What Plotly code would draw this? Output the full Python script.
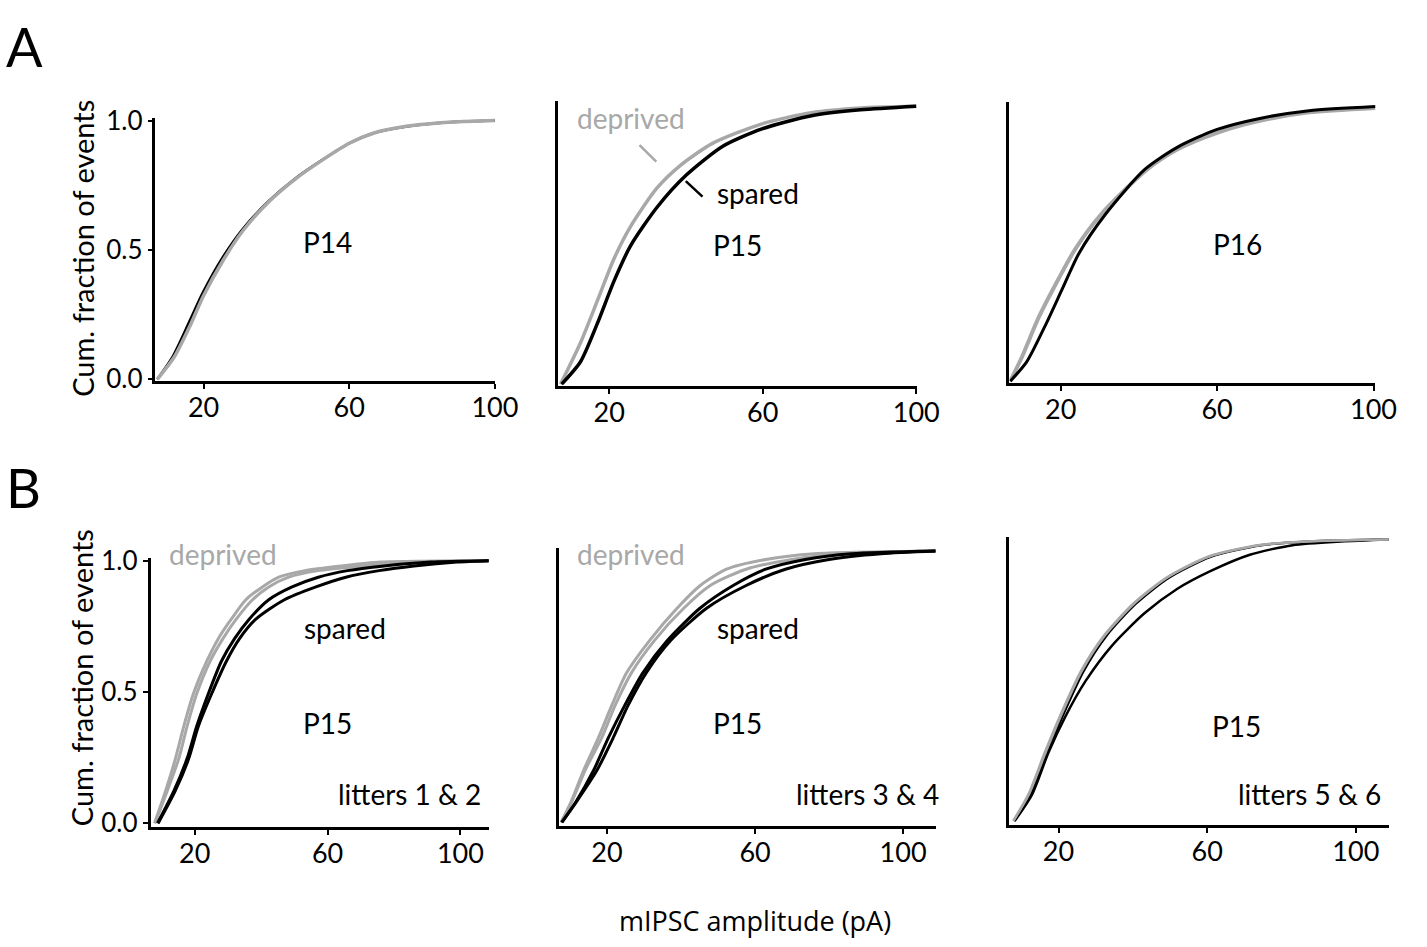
import plotly.graph_objects as go

W, H = 1427, 947
GRAY = "#a8a8a8"
BLACK = "#000000"
FONT = "Lato"

# ---------------- data ----------------
# Panel A1 (P14)
a1_spared_x = [7.3, 11.6, 16.0, 19.8, 25.2, 30.7, 38.0, 45.2, 52.4, 60.0, 66.8, 74.9, 88.4, 100.0]
a1_spared_y = [0.0, 0.09, 0.22, 0.335, 0.47, 0.58, 0.69, 0.776, 0.846, 0.912, 0.952, 0.975, 0.994, 1.0]
a1_depr_x = [7.3, 11.9, 16.4, 20.0, 25.4, 30.8, 38.0, 45.2, 52.4, 60.0, 66.8, 74.9, 88.4, 100.0]
a1_depr_y = [0.0, 0.085, 0.21, 0.323, 0.46, 0.574, 0.687, 0.774, 0.845, 0.912, 0.952, 0.976, 0.994, 1.0]

# Panel A2 (P15)
a2_depr_x = [7.3, 12.5, 16.9, 21.2, 25.5, 32.4, 38.4, 46.9, 59.8, 72.7, 85.5, 100.0]
a2_depr_y = [0.0, 0.148, 0.298, 0.447, 0.562, 0.70, 0.78, 0.86, 0.93, 0.97, 0.987, 0.993]
a2_spared_x = [7.6, 12.5, 16.9, 21.2, 25.5, 32.4, 40.0, 49.6, 59.8, 72.7, 85.5, 100.0]
a2_spared_y = [0.0, 0.08, 0.217, 0.367, 0.493, 0.631, 0.746, 0.85, 0.912, 0.959, 0.98, 0.993]

# Panel A3 (P16)
a3_spared_x = [7.1, 11.3, 16.3, 20.5, 24.7, 31.4, 41.5, 49.9, 60.0, 70.9, 83.5, 100.5]
a3_spared_y = [0.0, 0.07, 0.209, 0.337, 0.464, 0.604, 0.767, 0.848, 0.912, 0.952, 0.98, 0.995]
a3_depr_x = [7.1, 10.0, 14.4, 19.5, 23.6, 30.3, 41.5, 49.9, 60.0, 70.9, 83.5, 100.5]
a3_depr_y = [0.0, 0.085, 0.232, 0.372, 0.476, 0.604, 0.76, 0.84, 0.90, 0.943, 0.974, 0.99]

# Panel B1 (P15, litters 1 & 2)
b1_levels = [0.0, 0.122, 0.246, 0.369, 0.493, 0.616, 0.703, 0.777, 0.851, 0.90, 0.937, 0.962, 0.98, 0.995, 1.0]
b1_depr1_x = [7.9, 11.2, 14.2, 16.7, 19.6, 23.6, 27.1, 31.0, 35.4, 40.4, 45.3, 53.2, 64.1, 76.0, 108.5]
b1_depr2_x = [8.0, 11.7, 15.2, 17.7, 20.6, 24.6, 28.5, 32.5, 37.4, 42.3, 48.3, 57.2, 71.0, 84.0, 108.5]
b1_spar1_x = [8.8, 13.7, 17.7, 20.6, 24.1, 28.0, 32.0, 36.4, 42.3, 49.3, 57.2, 66.0, 77.0, 91.0, 108.5]
b1_spar2_x = [9.0, 14.1, 18.2, 21.1, 25.1, 29.5, 33.5, 38.4, 47.0, 56.5, 65.5, 75.5, 86.0, 99.0, 108.5]

# Panel B2 (P15, litters 3 & 4)
b2_levels = [0.0, 0.073, 0.192, 0.312, 0.431, 0.551, 0.67, 0.79, 0.873, 0.933, 0.969, 0.99, 1.0]
b2_depr1_x = [7.6, 10.2, 13.7, 17.7, 21.3, 25.3, 31.5, 39.0, 45.2, 52.3, 62.9, 76.0, 108.8]
b2_depr2_x = [7.6, 10.4, 14.1, 18.6, 22.2, 26.6, 32.8, 40.8, 47.9, 57.6, 70.0, 84.0, 108.8]
b2_spar1_x = [7.8, 11.5, 16.4, 20.4, 24.8, 29.7, 36.3, 45.2, 54.1, 62.9, 73.6, 86.0, 108.8]
b2_spar2_x = [7.8, 11.6, 17.3, 21.7, 25.7, 30.6, 37.2, 47.0, 57.6, 68.2, 80.0, 94.0, 108.8]

# Panel B3 (P15, litters 5 & 6)
b3_depr1_x = [7.8, 11.9, 16.3, 20.7, 26.0, 32.2, 40.1, 49.0, 60.4, 73.8, 87.0, 108.8]
b3_depr1_y = [0.005, 0.099, 0.247, 0.385, 0.534, 0.66, 0.773, 0.865, 0.94, 0.98, 0.993, 1.0]
b3_depr2_x = [7.9, 12.1, 16.6, 21.0, 26.3, 32.5, 40.4, 49.3, 60.7, 74.1, 87.3, 108.8]
b3_depr2_y = [0.005, 0.099, 0.247, 0.385, 0.534, 0.66, 0.773, 0.865, 0.94, 0.98, 0.993, 1.0]
b3_spar1_x = [8.0, 12.5, 17.0, 21.4, 26.7, 32.9, 40.8, 49.7, 61.1, 74.5, 87.6, 108.8]
b3_spar1_y = [0.005, 0.099, 0.247, 0.385, 0.534, 0.66, 0.773, 0.865, 0.94, 0.98, 0.993, 1.0]
b3_spar2_x = [8.2, 12.9, 17.3, 21.8, 27.3, 34.4, 43.2, 52.0, 61.0, 71.5, 83.0, 96.0, 108.8]
b3_spar2_y = [0.005, 0.099, 0.247, 0.373, 0.50, 0.625, 0.74, 0.826, 0.889, 0.946, 0.98, 0.993, 1.0]

x_tickvals = [20, 60, 100]
y_tickvals = [0.0, 0.5, 1.0]
y_ticktext = ["0.0", "0.5", "1.0"]

# ---------------- layout geometry (pixels) ----------------
panels = {
    "A1": (158, 503, 378, 107, [6.8, 100.0], [-0.0075, 1.01], True),
    "A2": (567, 932, 383, 90, [6.6, 100.2], [-0.007, 1.01], False),
    "A3": (1026, 1398, 380, 91, [6.9, 100.5], [-0.007, 1.01], False),
    "B1": (153, 497, 837, 560, [6.7, 108.6], [-0.015, 1.01], True),
    "B2": (568, 951, 836, 550, [7.0, 108.8], [-0.014, 1.01], False),
    "B3": (1026, 1412, 835, 538, [6.8, 109.0], [-0.01, 1.01], False),
}

curves = {
    "A1": [(a1_spared_x, a1_spared_y, BLACK, 2.5), (a1_depr_x, a1_depr_y, GRAY, 3.5)],
    "A2": [(a2_depr_x, a2_depr_y, GRAY, 3.5), (a2_spared_x, a2_spared_y, BLACK, 3.5)],
    "A3": [(a3_depr_x, a3_depr_y, GRAY, 4.0), (a3_spared_x, a3_spared_y, BLACK, 3.0)],
    "B1": [(b1_depr1_x, b1_levels, GRAY, 3.0), (b1_depr2_x, b1_levels, GRAY, 3.0),
           (b1_spar1_x, b1_levels, BLACK, 3.0), (b1_spar2_x, b1_levels, BLACK, 3.0)],
    "B2": [(b2_depr1_x, b2_levels, GRAY, 3.0), (b2_depr2_x, b2_levels, GRAY, 3.0),
           (b2_spar1_x, b2_levels, BLACK, 3.0), (b2_spar2_x, b2_levels, BLACK, 3.0)],
    "B3": [(b3_spar1_x, b3_spar1_y, BLACK, 2.5), (b3_spar2_x, b3_spar2_y, BLACK, 2.5),
           (b3_depr1_x, b3_depr1_y, GRAY, 2.5), (b3_depr2_x, b3_depr2_y, GRAY, 2.0)],
}

fig = go.Figure()
layout = dict(
    width=W, height=H, margin=dict(l=0, r=0, t=0, b=0),
    paper_bgcolor="white", plot_bgcolor="white", showlegend=False,
    font=dict(family=FONT, size=27, color="black"),
)

for i, (name, (l, r, b, t, xr, yr, showy)) in enumerate(panels.items(), start=1):
    xa = "xaxis" if i == 1 else f"xaxis{i}"
    ya = "yaxis" if i == 1 else f"yaxis{i}"
    xref = "x" if i == 1 else f"x{i}"
    yref = "y" if i == 1 else f"y{i}"
    layout[xa] = dict(
        domain=[l / W, r / W], range=xr, anchor=yref,
        showline=True, linecolor="black", linewidth=2.5,
        showgrid=False, zeroline=False,
        ticks="outside", ticklen=5, tickwidth=2, tickcolor="black",
        tickvals=x_tickvals, ticklabelstandoff=-4,
        tickfont=dict(family=FONT, size=27, color="black"),
        fixedrange=True,
    )
    ydict = dict(
        domain=[1 - b / H, 1 - t / H], range=yr, anchor=xref,
        showline=True, linecolor="black", linewidth=2.5,
        showgrid=False, zeroline=False, fixedrange=True,
    )
    if showy:
        ydict.update(ticks="outside", ticklen=5, tickwidth=2, tickcolor="black",
                     tickvals=y_tickvals, ticktext=y_ticktext,
                     tickfont=dict(family=FONT, size=26, color="black"))
    else:
        ydict.update(showticklabels=False, ticks="")
    layout[ya] = ydict
    for (cx, cy, col, lw) in curves[name]:
        fig.add_trace(go.Scatter(
            x=cx, y=cy, mode="lines", xaxis=xref, yaxis=yref,
            line=dict(color=col, width=lw, shape="spline", smoothing=0.7),
            hoverinfo="skip",
        ))

fig.update_layout(**layout)


def txt(x, y, s, color="black", size=28, xanchor="center", angle=0, family=FONT):
    fig.add_annotation(x=x / W, y=1 - y / H, xref="paper", yref="paper", text=s,
                       showarrow=False, xanchor=xanchor, yanchor="middle",
                       textangle=angle, font=dict(family=family, size=size, color=color))


def seg(x0, y0, x1, y1, color, width=2.5):
    fig.add_shape(type="line", xref="paper", yref="paper",
                  x0=x0 / W, y0=1 - y0 / H, x1=x1 / W, y1=1 - y1 / H,
                  line=dict(color=color, width=width))


# panel letters
txt(25, 33, "A", size=54)
txt(24, 487, "B", size=54)

# y titles
txt(83, 241, "Cum. fraction of events", size=29, angle=-90)
txt(83, 683, "Cum. fraction of events", size=29, angle=-90)

# x title
txt(767, 933, "mIPSC amplitude (pA)", size=27, family="Open Sans")

# panel A labels
txt(333, 235, "P14")
txt(641, 107, "deprived", color=GRAY)
seg(650, 135, 667, 152, GRAY)
txt(770, 184, "spared")
seg(697, 172, 714, 188, BLACK)
txt(750, 238, "P15")
txt(1258, 237, "P16")

# panel B labels
txt(227, 556, "deprived", color=GRAY)
txt(351, 632, "spared")
txt(333, 730, "P15")
txt(491, 803, "litters 1 &amp; 2", xanchor="right")
txt(641, 556, "deprived", color=GRAY)
txt(770, 632, "spared")
txt(750, 730, "P15")
txt(956, 803, "litters 3 &amp; 4", xanchor="right")
txt(1257, 733, "P15")
txt(1406, 803, "litters 5 &amp; 6", xanchor="right")

fig.write_html("out.html")
